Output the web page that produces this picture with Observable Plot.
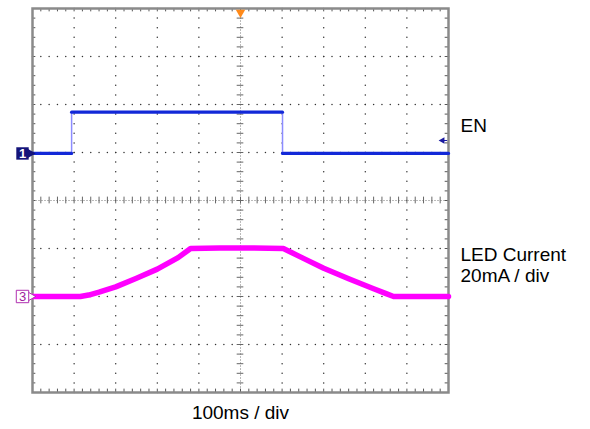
<!DOCTYPE html>
<html>
<head>
<meta charset="utf-8">
<script src="https://cdn.jsdelivr.net/npm/d3@7"></script>
<script src="https://cdn.jsdelivr.net/npm/@observablehq/plot@0.6"></script>
<style>
  html, body { margin: 0; padding: 0; background: #fff; }
  #chart svg { display: block; }
</style>
</head>
<body>
<div id="chart"></div>
<script>
// Time axis in ms (100 ms / div, 10 divisions), vertical axis in divisions (8 divisions)
const xMajor = [0, 100, 200, 300, 400, 500, 600, 700, 800, 900, 1000];
const yMajor = [-4, -3, -2, -1, 0, 1, 2, 3, 4];

// EN trace (channel 1), in divisions
const enTime  = [0, 94, 94, 601, 601, 1000];
const enLevel = [0.98, 0.98, 1.84, 1.84, 0.98, 0.98];

// LED current trace (channel 3), in divisions (20 mA / div)
const ledTime  = [0, 60, 115, 135, 160, 200, 250, 300, 350, 380, 450, 520, 603, 650, 700, 760, 820, 850, 868, 900, 1000];
const ledLevel = [-2.0, -2.0, -2.0, -1.97, -1.91, -1.8, -1.62, -1.43, -1.19, -1.0, -0.99, -0.99, -1.0, -1.2, -1.41, -1.63, -1.84, -1.94, -2.0, -2.0, -2.0];

// Labels
const labels = [
  {t: 1000, v: 1.55, text: "EN"},
  {t: 1000, v: -1.14, text: "LED Current"},
  {t: 1000, v: -1.58, text: "20mA / div"}
];
const xLabel = "100ms / div";

const minorX = d3.range(0, 1000.1, 20);
const minorY = d3.range(-4, 4.001, 0.2);

const enData = enTime.map((t, i) => ({t, v: enLevel[i]}));
const ledData = ledTime.map((t, i) => ({t, v: ledLevel[i]}));

const gridV = xMajor.filter(t => t > 0 && t < 1000 && t !== 500).flatMap(t => minorY.map(v => ({t, v})));
const gridH = yMajor.filter(v => v > -4 && v < 4 && v !== 0).flatMap(v => minorX.map(t => ({t, v})));

const chart = Plot.plot({
  width: 590,
  height: 429,
  marginLeft: 32,
  marginRight: 142,
  marginTop: 8,
  marginBottom: 37,
  x: {domain: [0, 1000], axis: null},
  y: {domain: [-4, 4], axis: null},
  style: {fontFamily: "Liberation Sans, Arial, sans-serif", background: "#fff"},
  marks: [
    // dotted graticule
    Plot.dot(gridV, {x: "t", y: "v", r: 0.75, fill: "#333", stroke: "none"}),
    Plot.dot(gridH, {x: "t", y: "v", r: 0.75, fill: "#333", stroke: "none"}),
    // center axes
    Plot.ruleY([0], {stroke: "#bbb", strokeWidth: 1, strokeDasharray: "2,1"}),
    Plot.ruleX([500], {stroke: "#bbb", strokeWidth: 1, strokeDasharray: "2,1"}),
    Plot.ruleX(minorX, {x: d => d, y1: -0.07, y2: 0.07, stroke: "#666", strokeWidth: 1}),
    Plot.ruleY(minorY, {y: d => d, x1: 492, x2: 508, stroke: "#666", strokeWidth: 1}),
    // edge ticks
    Plot.ruleX(minorX, {x: d => d, y1: 4, y2: 3.93, stroke: "#555", strokeWidth: 1}),
    Plot.ruleX(minorX, {x: d => d, y1: -4, y2: -3.93, stroke: "#555", strokeWidth: 1}),
    Plot.ruleY(minorY, {y: d => d, x1: 0, x2: 8, stroke: "#555", strokeWidth: 1}),
    Plot.ruleY(minorY, {y: d => d, x1: 1000, x2: 992, stroke: "#555", strokeWidth: 1}),
    // frame
    Plot.frame({stroke: "#8a8a8a", strokeWidth: 2.5}),
    // traces
    Plot.line(ledData, {x: "t", y: "v", stroke: "#ff00ff", strokeWidth: 5.5, curve: "linear", strokeLinejoin: "round"}),
    Plot.line(enData, {x: "t", y: "v", stroke: "#8c8cff", strokeWidth: 1.5}),
    Plot.line(enData.slice(0, 2), {x: "t", y: "v", stroke: "#1228d8", strokeWidth: 3.2}),
    Plot.line(enData.slice(2, 4), {x: "t", y: "v", stroke: "#1228d8", strokeWidth: 3.2}),
    Plot.line(enData.slice(4, 6), {x: "t", y: "v", stroke: "#1228d8", strokeWidth: 3.2}),
    // trigger position marker (top)
    Plot.dot([500], {x: d => d, y: 4, dy: 4, symbol: "triangle", rotate: 180, r: 3.5, fill: "#ff8a1a", stroke: "none"}),
    // trigger level marker (right)
    Plot.dot([1000], {x: d => d, y: 1.25, dx: -6, symbol: "triangle", rotate: -90, r: 2.5, fill: "#1a1aa0", stroke: "none"}),
    Plot.ruleY([1.25], {x1: 988, x2: 998, stroke: "#1a1aa0", strokeWidth: 1}),
    // channel 1 marker
    Plot.dot([0], {x: d => d, y: 0.98, dx: -3, symbol: "triangle", rotate: 90, r: 4, fill: "#14147a", stroke: "none"}),
    Plot.dot([0], {x: d => d, y: 0.98, dx: -10, symbol: "square", r: 7, fill: "#14147a", stroke: "none"}),
    Plot.text(["1"], {x: 0, y: 0.98, dx: -10, fill: "#fff", fontSize: 13, fontWeight: "bold"}),
    // channel 3 marker
    Plot.dot([0], {x: d => d, y: -2.0, dx: -3, symbol: "triangle", rotate: 90, r: 4, fill: "#fff", stroke: "#b030b0", strokeWidth: 1}),
    Plot.dot([0], {x: d => d, y: -2.0, dx: -10, symbol: "square", r: 7, fill: "#fff", stroke: "#b030b0", strokeWidth: 1}),
    Plot.text(["3"], {x: 0, y: -2.0, dx: -10, fill: "#a020a0", fontSize: 13}),
    // labels
    Plot.text(labels, {x: "t", y: "v", text: "text", dx: 12, textAnchor: "start", fontSize: 19, fill: "#000"}),
    Plot.text([xLabel], {x: 500, y: -4, dy: 20, fontSize: 19, fill: "#000", lineAnchor: "middle"})
  ]
});
document.getElementById("chart").appendChild(chart);
</script>
</body>
</html>
